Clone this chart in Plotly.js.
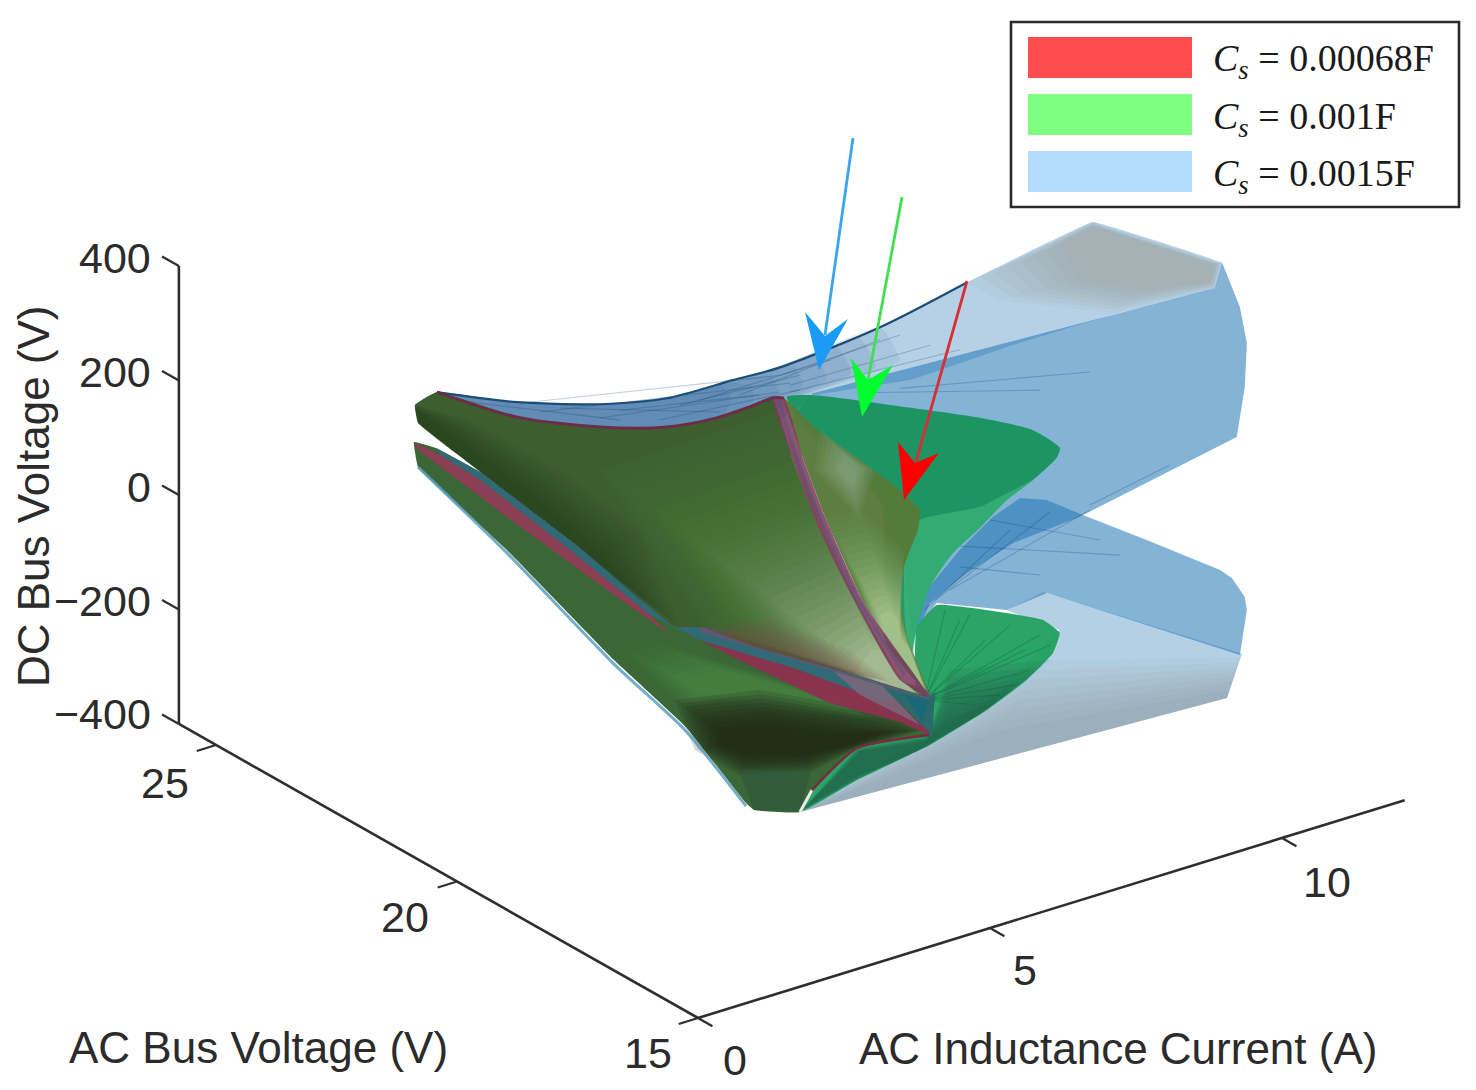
<!DOCTYPE html>
<html>
<head>
<meta charset="utf-8">
<title>Stability boundary surfaces</title>
<script src="https://cdn.plot.ly/plotly-3.0.1.min.js"></script>
<style>html,body{margin:0;padding:0;background:#fff;overflow:hidden}#chart{width:1476px;height:1090px}</style>
</head>
<body>
<div id="chart"></div>
<script>
// ---------- data: each vertex is [AC inductance current (A), AC bus voltage (V), DC bus voltage (V)] ----------
const seriesNames = ['0.00068F', '0.001F', '0.0015F'];
const currentTicks = [0, 5, 10];
const acVoltageTicks = [15, 20, 25];
const dcVoltageTicks = [-400, -200, 0, 200, 400];

// Cs = 0.0015F
const blueBackSheet = [[4.105,25.39,68.7],[4.875,24.66,61.7],[5.74,23.85,70],[6.32,23.3,88],[6.95,22.7,128.5],[7.405,22.27,157],[8.37,21.365,240],[9.2,20.57,330],[11.24,20.43,378],[11.66,18.25,397],[11.59,18.32,352],[10.61,19.25,292],[9.65,20.16,226],[8.68,21.07,153],[7.72,21.97,112],[7.405,22.27,65],[6.635,23,19],[5.67,23.91,24],[4.52,25,34]];
const blueCornerOuter = [[11.24,20.43,378],[11.66,18.25,397],[11.59,18.32,352],[10.61,19.25,295],[9.52,20.27,303],[9.2,20.57,330]];
const blueCornerInner = [[11.24,20.43,371],[11.59,18.32,392.5],[11.54,18.36,362],[10.87,19,339],[10.29,19.55,349],[10.92,20.73,333]];
const blueWedgeOuter = [[4.105,25.39,68.7],[4.875,24.66,61.7],[5.74,23.85,70],[6.32,23.3,88],[6.95,22.7,128.5],[7.405,22.27,157],[8.37,21.365,240],[8.56,21.18,185],[7.72,21.97,116],[7.405,22.27,65],[6.635,23,19],[5.67,23.91,24],[4.52,25,34]];
const blueWedgeInner = [[4.105,25.39,68.7],[4.875,24.66,61.7],[5.74,23.85,70],[6.06,23.55,81],[6.44,23.18,92],[6.83,22.82,118],[6.92,22.73,102],[6.92,22.73,84],[6.83,22.82,57],[6.635,23,19],[6.635,23,19],[5.67,23.91,24],[4.52,25,34]];
const blueUpperFront = [[7.72,21.97,116],[11.59,18.32,352],[11.66,18.25,397],[11.83,18.09,322],[11.9,18.03,260],[11.88,18.05,183],[11.8,18.12,95],[10.94,18.94,3],[10.29,19.55,-65],[9.65,20.16,-120],[9.2,20.57,-178],[8.85,20.91,-235],[8.68,21.07,-307],[8.61,21.14,-163],[8.367,21.365,-62],[7.5,22.18,66]];
const blueLowerBack = [[7.238,17.09,181],[7.498,16.85,181],[7.844,16.52,159.6],[8.46,15.94,124.3],[9.162,15.27,81.4],[9.278,15.16,69],[9.403,15.05,37.5],[9.422,15.03,15.1],[9.355,15.09,-64.5],[7.498,16.85,18.6],[7.113,17.21,-16.4],[6.44,17.85,-13.4],[6.209,18.065,-68.9],[6.344,17.94,8],[6.661,17.64,82.3],[6.979,17.34,144.3]];
const blueLowerSheet = [[7.46,16.88,20],[9.374,15.07,-62],[9.23,15.21,-141.3],[5.122,19.09,-396.3],[6.921,17.39,-176.2],[7.623,16.73,-44.3],[7.113,17.21,-17]];
const blueShadeOuter = [[9.355,15.09,-69.7],[9.23,15.21,-141.3],[5.122,19.09,-396.3],[7.46,16.88,-99]];
const blueShadeInner = [[9.259,15.18,-126.9],[9.23,15.21,-141.3],[5.122,19.09,-396.3],[7.046,17.27,-226.9]];
const blueTopEdge = [[4.105,25.39,68.7],[4.875,24.66,61.7],[5.74,23.85,70],[6.32,23.3,88],[6.95,22.7,128.5],[7.405,22.27,157],[8.37,21.365,240],[9.2,20.57,330]];
const blueStreaks = [
 [[4.9,24.64,60],[7.405,22.27,143]],[[5.1,24.46,47],[7.5,22.18,131]],[[5.67,23.91,45],[7.405,22.27,114]],[[6.25,23.37,49],[7.6,22.09,120]],
 [[7.405,22.27,143],[8.56,21.18,229]],[[7.5,22.18,127],[8.85,20.91,215]],[[7.5,22.18,115],[9.14,20.64,211]],
 [[8.17,21.55,123],[9.91,19.91,151]],[[8.56,21.18,136],[10.39,19.46,189]],
 [[6.469,17.82,88.3],[8.2,16.18,94.5]],[[6.661,17.64,52.6],[7.431,16.91,49]],[[6.95,17.365,138.6],[8.008,16.365,118.1]],
 [[6.325,17.96,-27.1],[7.142,17.18,123.7]],[[6.421,17.86,-8.3],[7.527,16.82,160.5]],[[6.565,17.73,11.1],[7.912,16.456,169.2]],[[7.912,16.456,177.9],[8.681,15.73,258.3]],
 [[4.42,25.09,55.6],[5.865,23.73,44]],[[5.29,24.27,57],[6.83,22.82,71]],[[5.865,23.73,61],[7.21,22.46,106]],[[6.44,23.18,78],[7.6,22.09,146]],[[6.635,23,89],[7.89,21.82,176]],[[7.02,22.64,103],[8.37,21.365,218]]
];

// Cs = 0.001F
const greenUpper = [[4.997,19.21,326.9],[5.247,18.97,333.7],[6.209,18.065,324.1],[6.854,17.46,315.5],[7.363,16.97,301.4],[7.623,16.73,273.6],[7.594,16.76,255.7],[7.363,16.97,214.1],[7.113,17.21,175.7],[6.854,17.46,123.3],[6.594,17.7,76.1],[6.373,17.91,13.7],[6.248,18.03,-57.9],[6.199,18.07,-128.3],[6.344,17.94,-171.9],[5.94,18.32,-84.8],[5.892,18.365,159.1],[5.122,19.09,288.4]];
const greenUpperFront = [[6.276,18,129.4],[6.854,17.46,160],[7.363,16.97,214.1],[7.113,17.21,175.7],[6.854,17.46,123.3],[6.594,17.7,76.1],[6.373,17.91,13.7],[6.248,18.03,-57.9],[6.199,18.07,-128.3],[6.132,18.14,-47.2],[6.132,18.14,57.6]];
const greenLower = [[6.44,17.85,-16.9],[7.113,17.21,-21.6],[7.46,16.88,-29.1],[7.623,16.73,-49.6],[7.556,16.79,-85.5],[7.306,17.03,-136.1],[6.921,17.39,-193.7],[6.373,17.91,-262.3],[5.67,18.57,-332.9],[5.122,19.09,-396.3],[5.026,19.18,-376.7],[5.555,18.68,-282.1],[6.325,17.96,-236.7],[6.228,18.05,-150.7],[6.248,18.03,-57.9]];
const greenShadeOuter = [[7.527,16.82,-98],[6.921,17.39,-193.7],[6.373,17.91,-262.3],[5.67,18.57,-332.9],[5.122,19.09,-396.3],[5.67,18.57,-277],[6.363,17.92,-244.9],[6.565,17.73,-128.6]];
const greenShadeInner = [[7.046,17.27,-174.5],[6.757,17.55,-213.3],[6.228,18.05,-276.4],[5.699,18.55,-323.8],[5.17,19.05,-388.6],[5.699,18.55,-283.6],[6.325,17.96,-257.6],[6.517,17.77,-216.6]];
const greenFanHub = [6.325,17.96,-184.3];
const greenFanRim = [[7.431,16.91,-55.8],[7.335,17,-118.2],[7.046,17.27,-165.8],[6.902,17.41,-71.7],[6.661,17.64,-40],[6.517,17.77,-24.5],[7.527,16.82,-71.8],[7.19,17.14,-146.3],[6.806,17.5,-186.5],[7.142,17.18,-42.2],[6.757,17.55,-29.9],[7.287,17.05,-83.9]];

// Cs = 0.00068F (seen mixed with the other two surfaces)
const redUpperSheet = [[1.418,22.59,264.2],[1.63,22.39,289.7],[2.4,21.66,256.5],[3.198,20.91,250],[3.843,20.3,258.8],[4.324,19.85,281],[4.641,19.55,304.6],[4.862,19.34,323.3],[5.055,19.16,217.6],[5.295,18.93,103.9],[5.641,18.6,-18.9],[6.084,18.18,-152.7],[6.363,17.92,-178.5],[6.016,18.25,-162.3],[5.401,18.83,-139.2],[4.708,19.48,-113.7],[4.198,19.96,-85.8],[3.92,20.23,-89.6],[2.996,21.1,37.6],[2.063,21.98,154.1],[1.447,22.56,233.1]];
const edgeBacking = [[4.16,20,-74],[6.363,17.92,-166.3],[6.373,17.91,-183.7],[4.16,20,-95]];
const darkLeftOuter = [[1.418,22.59,264.2],[1.447,22.56,233.1],[2.063,21.98,154.1],[2.996,21.1,37.6],[3.968,20.18,-88.9],[3.583,20.55,75.2],[2.813,21.27,169.6],[1.947,22.09,245.2]];
const darkLeftInner = [[1.418,22.59,259],[1.447,22.56,233.1],[2.063,21.98,154.1],[2.996,21.1,37.6],[3.583,20.55,-47],[3.198,20.91,26.4],[2.525,21.55,122],[1.707,22.32,224.4]];
const glowOuter = [[3.198,20.91,174.8],[4.93,19.27,303.3],[5.314,18.91,104.1],[5.661,18.58,-18.7],[6.084,18.18,-152.7],[6.363,17.92,-178.5],[5.401,18.83,-139.2],[4.198,19.96,-85.8]];
const glowInner = [[5.699,18.55,-131.7],[5.815,18.44,-104],[5.892,18.365,-102.9],[5.988,18.27,-127.8],[6.132,18.14,-155.5],[6.228,18.05,-173.4],[5.892,18.365,-158.8],[5.699,18.55,-143.9]];
const brownOuter = [[4.16,20,-86.3],[4.833,19.37,-61.4],[5.603,18.64,-106.8],[5.988,18.27,-157.5],[5.401,18.83,-139.2],[4.708,19.48,-113.7]];
const brownInner = [[4.352,19.82,-95.9],[4.833,19.37,-106.8],[5.411,18.82,-133.9],[5.699,18.55,-149.1],[5.401,18.83,-141],[4.708,19.48,-115.4]];
const redTopEdge = [[1.63,22.39,289.7],[2.4,21.66,256.5],[3.198,20.91,250],[3.843,20.3,258.8],[4.324,19.85,281],[4.641,19.55,304.6],[4.862,19.34,323.3],[4.968,19.24,324.7]];
const finSheet = [[4.968,19.24,324.7],[5.295,18.93,273.3],[5.738,18.51,221.7],[6.084,18.18,179.2],[6.276,18,146.9],[6.257,18.02,111.7],[6.122,18.15,45.2],[6.084,18.18,-12.9],[6.151,18.12,-76.6],[6.363,17.92,-171.6],[6.19,18.08,-133.8],[5.738,18.51,-22.9],[5.363,18.86,122.3],[5.16,19.06,219]];
const finLightOuter = [[5.314,18.91,273.5],[5.844,18.41,210.8],[5.699,18.55,121.6],[5.266,18.96,203]];
const finLightInner = [[5.555,18.68,233.2],[5.699,18.55,212.4],[5.622,18.62,181.6],[5.488,18.75,206]];
const finGlowOuter = [[5.363,18.86,122.3],[5.699,18.55,139.1],[6.132,18.14,75.1],[6.084,18.18,-12.9],[6.151,18.12,-76.6],[6.363,17.92,-171.6],[6.19,18.08,-133.8],[5.738,18.51,-22.9]];
const finGlowInner = [[5.892,18.365,-41.7],[5.988,18.27,-31.7],[6.065,18.2,-48.2],[6.103,18.17,-82.5],[6.18,18.09,-99],[6.325,17.96,-166.8],[6.161,18.11,-125.5],[5.94,18.32,-84.8]];
const ridgeStripe = [[4.862,19.34,323.3],[5.055,19.16,217.6],[5.295,18.93,103.9],[5.641,18.6,-18.9],[6.084,18.18,-152.7],[6.363,17.92,-178.5],[6.19,18.08,-133.8],[5.738,18.51,-22.9],[5.363,18.86,122.3],[5.16,19.06,219],[4.968,19.24,324.7]];
const ridgeCentre = [[4.91,19.29,323.9],[5.103,19.11,218.2],[5.334,18.89,113.1],[5.69,18.56,-20.1],[6.132,18.14,-143.2]];
const tipBacking = [[3.92,20.23,-89.6],[6.363,17.92,-178.5],[6.421,17.86,-169],[6.392,17.89,-248],[5.892,18.365,-211.2],[5.055,19.16,-145.7]];
const lowerSheet = [[1.409,22.6,199.4],[1.62,22.4,191.8],[2.063,21.98,154.1],[2.996,21.1,37.6],[3.679,20.46,-50.9],[3.92,20.23,-89.6],[4.198,19.96,-85.8],[5.055,19.16,-126.5],[5.911,18.35,-163.8],[6.046,18.22,-188.1],[6.363,17.92,-239.7],[6.363,17.92,-244.9],[5.67,18.57,-277],[5.295,18.93,-343.3],[5.122,19.09,-396.3],[4.679,19.51,-398.8],[4.603,19.58,-387.7],[4.025,20.13,-262.7],[3.333,20.78,-155.2],[2.303,21.75,22.9],[1.447,22.56,156.3]];
const lowerGlowOuter = [[3.679,20.46,-115.5],[4.352,19.82,-141.3],[5.603,18.64,-194.1],[5.892,18.365,-225.1],[4.882,19.32,-226.7],[4.362,19.81,-216.2],[3.958,20.19,-230.5],[3.39,20.73,-137]];
const lowerGlowInner = [[4.352,19.82,-158.8],[4.737,19.46,-171],[5.411,18.82,-196.8],[5.699,18.55,-219],[5.026,19.18,-202],[4.545,19.64,-199.9],[4.16,20,-205.1],[3.968,20.18,-181.5]];
const lowerDarkOuter = [[3.92,20.23,-217.1],[4.737,19.46,-188.4],[6.084,18.18,-213.8],[6.325,17.96,-236.7],[5.67,18.57,-277],[5.228,18.99,-325.1],[4.535,19.65,-339.7],[4.112,20.05,-301.8]];
const lowerDarkInner = [[4.352,19.82,-263.6],[4.833,19.37,-253.5],[5.411,18.82,-257.9],[5.892,18.365,-246.1],[5.603,18.64,-272.7],[5.122,19.09,-296.8],[4.641,19.55,-303.3],[4.372,19.8,-289.5]];
const lowerTail = [[4.535,19.65,-331],[5.228,18.99,-321.6],[5.122,19.09,-396.3],[4.679,19.51,-398.8]];
const bandBlue = [[1.62,22.4,191.8],[2.063,21.98,154.1],[2.996,21.1,37.6],[3.679,20.46,-50.9],[3.92,20.23,-89.6],[4.198,19.96,-85.8],[5.055,19.16,-126.5],[5.911,18.35,-163.8],[6.046,18.22,-188.1],[5.892,18.365,-190.2],[5.055,19.16,-145.7],[4.16,20,-109],[3.679,20.46,-71.8],[2.909,21.18,31.2],[2.044,22,141.7],[1.659,22.36,180.1]];
const bandRedLeft = [[1.409,22.6,199.4],[1.659,22.36,180.1],[2.044,22,141.7],[2.909,21.18,31.2],[3.679,20.46,-71.8],[3.871,20.27,-104.2],[3.198,20.91,-26],[2.303,21.75,80.6],[1.447,22.56,186]];
const bandRedRight = [[4.16,20,-109],[5.055,19.16,-145.7],[5.892,18.365,-190.2],[6.046,18.22,-188.1],[6.363,17.92,-239.7],[6.363,17.92,-244.9],[6.084,18.18,-226],[5.401,18.83,-202.1],[4.535,19.65,-138.8]];
const bandMauve = [[5.411,18.82,-140.9],[5.911,18.35,-163.8],[6.046,18.22,-188.1],[6.276,18,-228.7],[5.699,18.55,-184]];
const tipTeal = [[6.132,18.14,-178.1],[6.373,17.91,-183.7],[6.296,17.98,-223.1]];
const lowerLip = [[1.447,22.56,156.3],[2.303,21.75,17.7],[3.333,20.78,-162.2],[4.025,20.13,-269.7],[4.603,19.58,-392.9]];
const seamWhite = [[5.122,19.09,-396.3],[5.237,18.98,-356.3]];
const seamRed = [[5.237,18.98,-356.3],[5.67,18.57,-277],[6.363,17.92,-244.9]];

// ---------- the plot's fixed viewing projection ----------
const view = {ox:698, oy:1018, ix:58.4, iy:18, vx:48.2, vy:27.3, zy:0.5725};
const px = p => view.ox + view.ix*p[0] - view.vx*(p[1]-15);
const py = p => view.oy - view.iy*p[0] - view.vy*(p[1]-15) - view.zy*(p[2]+400);

function sheet(name, pts, color, smooth) {
  const xs = pts.map(px), ys = pts.map(py);
  xs.push(xs[0]); ys.push(ys[0]);
  return {type:'scatter', mode:'lines', name, x:xs, y:ys, fill:'toself', fillcolor:color,
    line:{width:0, color:color, shape: smooth ? 'spline' : 'linear', smoothing: smooth || 0},
    hoverinfo:'skip', showlegend:false};
}
function path(name, pts, color, width, smooth) {
  return {type:'scatter', mode:'lines', name, x:pts.map(px), y:pts.map(py),
    line:{width, color, shape: smooth ? 'spline' : 'linear', smoothing: smooth || 0}, hoverinfo:'skip', showlegend:false};
}
function segments(name, list, color, width) {
  const xs = [], ys = [];
  list.forEach(s => { s.forEach(p => { xs.push(px(p)); ys.push(py(p)); }); xs.push(null); ys.push(null); });
  return {type:'scatter', mode:'lines', name, x:xs, y:ys, line:{width, color}, hoverinfo:'skip', showlegend:false};
}
// smooth surface shading: translucent layers morphing from one drawn outline to another
function shade(name, outer, inner, n, c0, c1, alpha, power, smooth) {
  const out = [];
  for (let k = 0; k < n; k++) {
    const t = k/(n-1), w = Math.pow(t, power || 1);
    const pts = outer.map((p,i) => p.map((v,j) => v + (inner[i][j]-v)*t));
    const c = c0.map((v,j) => Math.round(v + (c1[j]-v)*w));
    out.push(sheet(name, pts, `rgba(${c[0]},${c[1]},${c[2]},${alpha})`, smooth));
  }
  return out;
}

const axisColor = '#2e2e2e';
const axisLines = [
  path('current axis', [[0,15,-400],[12.1,15,-400]], axisColor, 2.6),
  path('ac voltage axis', [[0,15,-400],[0,25.77,-400]], axisColor, 2.6),
  path('dc voltage axis', [[0,25.77,-400],[0,25.77,400]], axisColor, 2.6),
  segments('current ticks', currentTicks.map(i => [[i,15,-400],[i,14.7,-400]]), axisColor, 2.2),
  segments('ac voltage ticks', acVoltageTicks.map(v => [[0,v,-400],[-0.33,v,-400]]), axisColor, 2.2),
  segments('dc voltage ticks', dcVoltageTicks.map(z => [[0,25.77,z],[0,26.12,z]]), axisColor, 2.2)
];

const traces = [].concat(
  sheet('Cs=0.0015F back', blueBackSheet, 'rgba(33,116,180,0.33)', 0.12),
  shade('Cs=0.0015F back corner', blueCornerOuter, blueCornerInner, 8, [140,135,125], [150,145,130], 0.07),
  shade('Cs=0.0015F wedge', blueWedgeOuter, blueWedgeInner, 8, [22,85,140], [22,80,135], 0.085, 1, 0.4),
  sheet('Cs=0.0015F upper', blueUpperFront, 'rgba(33,116,180,0.55)'),
  sheet('Cs=0.0015F lower sheet', blueLowerSheet, 'rgba(33,116,180,0.34)'),
  shade('Cs=0.0015F lower shade', blueShadeOuter, blueShadeInner, 8, [130,130,125], [120,120,115], 0.05),
  sheet('Cs=0.0015F lower', blueLowerBack, 'rgba(33,116,180,0.55)'),
  segments('Cs=0.0015F mesh', blueStreaks, 'rgba(15,60,105,0.24)', 1.1),
  path('Cs=0.0015F edge', blueTopEdge, '#1b4d78', 2.2, 0.8),
  sheet('Cs=0.001F upper', greenUpper, 'rgba(20,146,90,0.93)', 0.6),
  sheet('Cs=0.001F upper front', greenUpperFront, 'rgba(80,205,135,0.42)', 0.4),
  sheet('Cs=0.001F lower', greenLower, 'rgba(32,160,95,0.95)', 0.35),
  shade('Cs=0.001F lower shade', greenShadeOuter, greenShadeInner, 8, [35,70,65], [30,65,58], 0.09),
  segments('Cs=0.001F mesh', greenFanRim.map(p => [greenFanHub, p]), 'rgba(15,90,55,0.32)', 1.1),
  sheet('tip backing', tipBacking, '#2a6a6c'),
  sheet('Cs=0.00068F lower', lowerSheet, '#3b6635', 0.25),
  shade('lower glow', lowerGlowOuter, lowerGlowInner, 8, [70,130,65], [90,160,80], 0.1),
  shade('lower dark band', lowerDarkOuter, lowerDarkInner, 10, [30,40,22], [28,36,18], 0.16),
  sheet('lower tail', lowerTail, 'rgba(45,85,62,0.55)'),
  path('lower lip', lowerLip, 'rgba(90,160,190,0.85)', 3, 0.6),
  sheet('band blue', bandBlue, 'rgba(50,105,125,0.9)'),
  sheet('band red left', bandRedLeft, 'rgba(145,60,88,0.92)'),
  sheet('band red right', bandRedRight, 'rgba(140,50,80,0.95)'),
  sheet('band mauve', bandMauve, 'rgba(125,105,125,0.85)'),
  sheet('tip teal', tipTeal, 'rgba(25,105,120,0.85)'),
  sheet('edge backing', edgeBacking, '#5c5a72'),
  sheet('Cs=0.00068F upper', redUpperSheet, '#3d5f30', 0.3),
  shade('sheet shade left', darkLeftOuter, darkLeftInner, 8, [28,42,22], [24,36,18], 0.055),
  shade('sheet glow', glowOuter, glowInner, 30, [72,118,56], [240,244,222], 0.1, 2),
  shade('sheet edge', brownOuter, brownInner, 8, [125,85,80], [120,70,75], 0.09),
  sheet('fin', finSheet, 'rgba(88,122,58,0.97)', 0.35),
  shade('fin highlight', finLightOuter, finLightInner, 7, [140,170,145], [170,195,175], 0.1),
  shade('fin glow', finGlowOuter, finGlowInner, 14, [105,150,85], [205,232,185], 0.15, 1.2),
  sheet('ridge', ridgeStripe, 'rgba(125,60,92,0.88)', 0.5),
  path('ridge centre', ridgeCentre, 'rgba(80,85,130,0.5)', 3, 0.6),
  path('top edge', redTopEdge, '#6d2d46', 3, 0.8),
  path('seam white', seamWhite, '#f0e8ea', 3),
  path('seam red', seamRed, '#7a2b40', 2.5, 0.6),
  axisLines
);

// ---------- annotations, arrows, legend ----------
const textFont = {family:'"Liberation Sans", Arial, sans-serif', size:43, color:'#2b2b2b'};
const titleFont = {family:'"Liberation Sans", Arial, sans-serif', size:44, color:'#2b2b2b'};
const serif = {family:'"Liberation Serif", "Times New Roman", serif', size:38, color:'#1a1a1a'};
const note = (x,y,text,font,extra) => Object.assign({xref:'x',yref:'y',x,y,text,font,showarrow:false,xanchor:'center',yanchor:'middle'},extra||{});

const annotations = [];
dcVoltageTicks.forEach((z,k) => annotations.push(note(153,[714,601,487,372,258][k], String(z).replace('-','\u2212'), textFont, {xanchor:'right'})));
acVoltageTicks.forEach((v,k) => annotations.push(note([648,405,165][k],[1053,917,783][k], String(v), textFont)));
currentTicks.forEach((i,k) => annotations.push(note([735,1025,1327][k],[1060,970,882][k], String(i), textFont)));
annotations.push(note(258,1047,'AC Bus Voltage (V)',titleFont));
annotations.push(note(1118,1048,'AC Inductance Current (A)',titleFont));
annotations.push(note(33,496,'DC Bus Voltage (V)',titleFont,{textangle:-90}));
seriesNames.forEach((n,k) => annotations.push(note(1211,[61,119,176][k],'<i>C<sub>s</sub></i> = '+n,serif,{xanchor:'left'})));

const rect = (x0,y0,x1,y1,fill,line) => ({type:'rect',xref:'x',yref:'y',x0,y0,x1,y1,fillcolor:fill,line:line||{width:0},layer:'above'});
const shaft = (x0,y0,x1,y1,color) => ({type:'line',xref:'x',yref:'y',x0,y0,x1,y1,line:{color,width:2.8},layer:'above'});
const dart = (d,color) => ({type:'path',xref:'x',yref:'y',path:d,fillcolor:color,line:{width:0},layer:'above'});
const shapes = [
  rect(1011,22,1459,207,'#ffffff',{color:'#2a2a2a',width:2.6}),
  rect(1028,37,1192,78,'#ff4d4d'),
  rect(1028,94,1192,135,'#80ff80'),
  rect(1028,151,1192,192,'#b5dcfb'),
  shaft(853,138,825,335,'#38a5ee'),
  dart('M819,370 L805,312 L825,336 L848,319 Z','#1a9cf5'),
  shaft(902,197,868,380,'#3fe04f'),
  dart('M862,417 L851,358 L868,380 L893,365 Z','#00ff2e'),
  shaft(967,281,916,462,'#d62f35'),
  dart('M904,500 L898,442 L915,463 L939,453 Z','#ff0000')
];

Plotly.newPlot('chart', traces, {
  width:1476, height:1090, margin:{l:0,r:0,t:0,b:0}, paper_bgcolor:'#ffffff', plot_bgcolor:'#ffffff',
  showlegend:false,
  xaxis:{range:[0,1476], visible:false, fixedrange:true},
  yaxis:{range:[1090,0], visible:false, fixedrange:true},
  annotations, shapes
}, {displayModeBar:false, staticPlot:true});
</script>
</body>
</html>
